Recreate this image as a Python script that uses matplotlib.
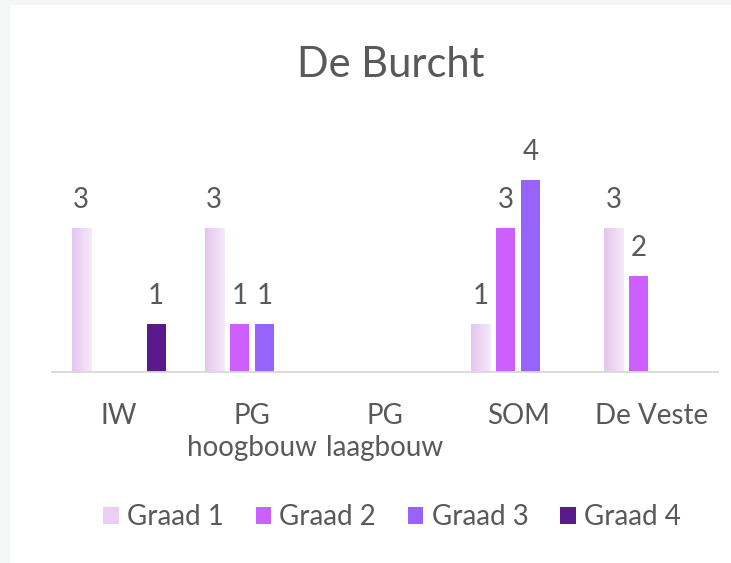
import numpy as np
import matplotlib.pyplot as plt
from matplotlib.patches import Rectangle
from matplotlib.colors import LinearSegmentedColormap

# chart data
categories = ["IW", "PG\nhoogbouw", "PG\nlaagbouw", "SOM", "De Veste"]
series_names = ["Graad 1", "Graad 2", "Graad 3", "Graad 4"]
graad1 = [3, 3, 0, 1, 3]
graad2 = [0, 1, 0, 3, 2]
graad3 = [0, 1, 0, 4, 0]
graad4 = [1, 0, 0, 0, 0]
colors = ["#EACFF3", "#CC5FFD", "#9664FC", "#5A1A8C"]

plt.rcParams['font.family'] = ['Lato', 'DejaVu Sans']
text_col = "#595959"

fig = plt.figure(figsize=(7.31, 5.63), dpi=100)
fig.patch.set_facecolor("#F5F7F7")
fig.add_artist(Rectangle((10 / 731, 0), 1, 1 - 5 / 563, transform=fig.transFigure,
                         facecolor="white", edgecolor="none", zorder=-10))

ax = fig.add_axes([52 / 731, 191 / 563, 666 / 731, 240 / 563])
ax.set_facecolor("none")

# light gradient for the Graad 1 bars, like the Excel fill
grad_cmap = LinearSegmentedColormap.from_list("g1", ["#E5C5EF", "#F5EAF9"])
grad = np.linspace(0, 1, 64).reshape(1, -1)

x = np.arange(len(categories))
slot = 0.1875
width = 0.143
all_series = [graad1, graad2, graad3, graad4]
for i, (name, vals) in enumerate(zip(series_names, all_series)):
    pos = x + (i - 1.5) * slot
    bars = ax.bar(pos, vals, width, color=colors[i], label=name, zorder=2)
    for b, v in zip(bars, vals):
        if v > 0:
            if i == 0:
                im = ax.imshow(grad, cmap=grad_cmap, aspect="auto", zorder=2.5,
                               extent=[b.get_x(), b.get_x() + b.get_width(), 0, v])
                im.set_clip_path(b)
            ax.annotate(str(v), (b.get_x() + b.get_width() / 2, v),
                        xytext=(0, 11), textcoords="offset points",
                        ha="center", va="bottom", fontsize=20, color=text_col)

ax.set_xlim(-0.5, len(categories) - 0.5)
ax.set_ylim(0, 5)
ax.set_xticks(x)
ax.set_xticklabels(categories, fontsize=20, color=text_col, linespacing=1.32)
ax.tick_params(axis="x", length=0, pad=22)
ax.set_yticks([])
for s in ["top", "right", "left"]:
    ax.spines[s].set_visible(False)
ax.spines["bottom"].set_color("#D9D9D9")
ax.spines["bottom"].set_linewidth(1.3)
ax.spines["bottom"].set_zorder(3)

fig.text(391 / 731, 1 - 77 / 563, "De Burcht", ha="center", va="baseline",
         fontsize=30, color=text_col)

leg = ax.legend(loc="center", bbox_to_anchor=(392 / 731, 1 - 517 / 563),
                bbox_transform=fig.transFigure, ncol=4, frameon=False,
                fontsize=20, handlelength=0.55, handleheight=0.55,
                handletextpad=0.3, columnspacing=1.15)
for t in leg.get_texts():
    t.set_color(text_col)

fig.savefig("out.png", dpi=100)
